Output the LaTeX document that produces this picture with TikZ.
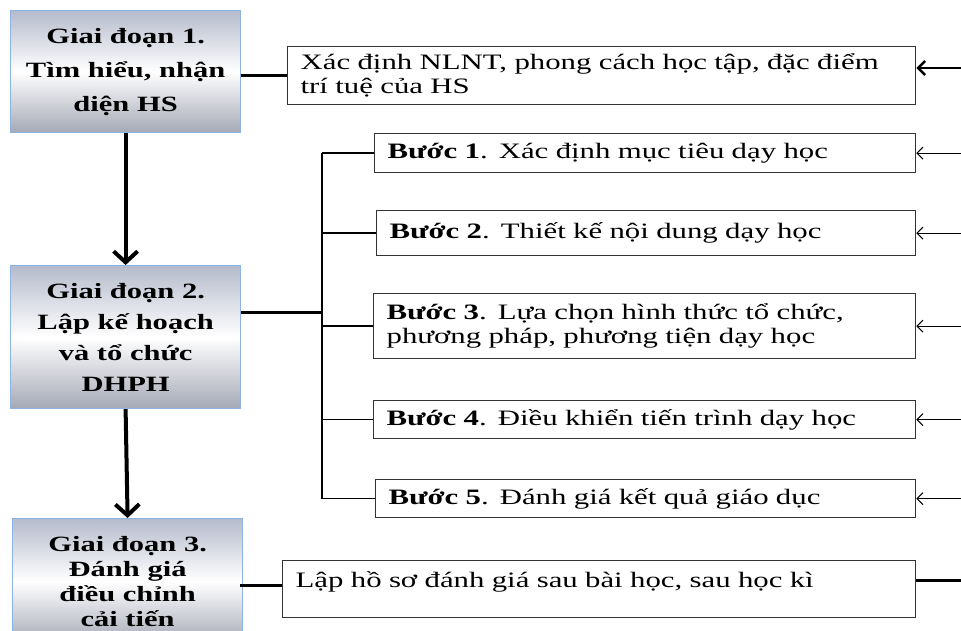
\documentclass[tikz,border=0pt]{standalone}
\usepackage{fontspec}
\setmainfont{Liberation Serif}[FakeStretch=1.4]
\usetikzlibrary{arrows.meta}
\definecolor{stagetop}{HTML}{B5BBCC}
\definecolor{stagebot}{HTML}{A5A9B6}
\definecolor{stageline}{HTML}{8DB3E2}
\begin{document}
\begin{tikzpicture}[x=1pt, y=-1pt,
  stage/.style = {draw=stageline, line width=1.2pt, anchor=north west, top color=stagetop, bottom color=stagebot, middle color=white, minimum width=230pt, align=center, inner sep=0pt},
  note/.style = {draw=black!80, line width=1.3pt, anchor=north west, align=left, inner xsep=13pt, inner ysep=0pt, font=\fontsize{22}{24}\selectfont},
  link/.style = {line width=3pt},
  branch/.style = {line width=1.5pt},
  down/.style = {line width=4pt, -{Straight Barb[length=11pt, width=24pt]}},
  feed/.style = {line width=1pt, -{Straight Barb[length=6pt, width=12pt]}},
  bigfeed/.style = {line width=2.5pt, -{Straight Barb[length=7pt, width=14pt]}}]
\clip (0,0) rectangle (961,630);

% giai doan
\node[stage, minimum height=122pt, font=\fontsize{21.8}{34}\selectfont\bfseries] (g1) at (10,10) {Giai đoạn 1.\\Tìm hiểu, nhận\\diện HS};
\node[stage, minimum height=143pt, font=\fontsize{21.8}{31}\selectfont\bfseries] (g2) at (10,265) {Giai đoạn 2.\\Lập kế hoạch\\và tổ chức\\DHPH};
\node[stage, minimum height=125pt, font=\fontsize{21.8}{25}\selectfont\bfseries] (g3) at (12,518) {Giai đoạn 3.\\Đánh giá\\điều chỉnh\\cải tiến};

% cac hop ben phai
\node[note, minimum width=628pt, minimum height=58pt, text width=602pt] (hs) at (287,46) {Xác định NLNT, phong cách học tập, đặc điểm\\trí tuệ của HS};
\node[note, minimum width=541pt, minimum height=39pt, text width=515pt] (b1) at (374,133) {\textbf{Bước 1}. Xác định mục tiêu dạy học};
\node[note, minimum width=539pt, minimum height=45pt, text width=513pt] (b2) at (376,210) {\textbf{Bước 2}. Thiết kế nội dung dạy học};
\node[note, minimum width=542pt, minimum height=65pt, text width=516pt] (b3) at (373,293) {\textbf{Bước 3}. Lựa chọn hình thức tổ chức,\\phương pháp, phương tiện dạy học};
\node[note, minimum width=542pt, minimum height=38pt, text width=516pt] (b4) at (373,400) {\textbf{Bước 4}. Điều khiển tiến trình dạy học};
\node[note, minimum width=540pt, minimum height=38pt, text width=514pt] (b5) at (375,479) {\textbf{Bước 5}. Đánh giá kết quả giáo dục};
\node[note, minimum width=633pt, minimum height=57pt, text width=607pt, text depth=20pt] (hk) at (282,560) {Lập hồ sơ đánh giá sau bài học, sau học kì};

\coordinate (fork) at (322,312);
\coordinate (edge) at (961,0);
\coordinate (top) at (961,68);
\coordinate (low) at (961,580);
\coordinate (g3out) at (240,585);

\draw[down] (g1.south) -- (g2.north);
\draw[down] (g2.south) -- (g3.north);

\draw[link] (g1.east |- hs.west) -- (hs.west);
\draw[link] (g2.east |- fork) -- (fork);
\draw[line width=2pt] (fork |- b1.west) -- (fork |- b5.west);
\draw[branch] (fork |- b1.west) -- (b1.west);
\draw[branch] (fork |- b2.west) -- (b2.west);
\draw[branch] (fork |- b3.west) -- (b3.west);
\draw[branch] (fork |- b4.west) -- (b4.west);
\draw[branch] (fork |- b5.west) -- (b5.west);
\draw[link] (g3out) -- (hk.west |- g3out);

\draw[bigfeed] (top) -- (hs.east |- top);
\draw[feed] (b1.east -| edge) -- (b1.east);
\draw[feed] (b2.east -| edge) -- (b2.east);
\draw[feed] (b3.east -| edge) -- (b3.east);
\draw[feed] (b4.east -| edge) -- (b4.east);
\draw[feed] (b5.east -| edge) -- (b5.east);
\draw[link] (hk.east |- low) -- (low);

\end{tikzpicture}
\end{document}
